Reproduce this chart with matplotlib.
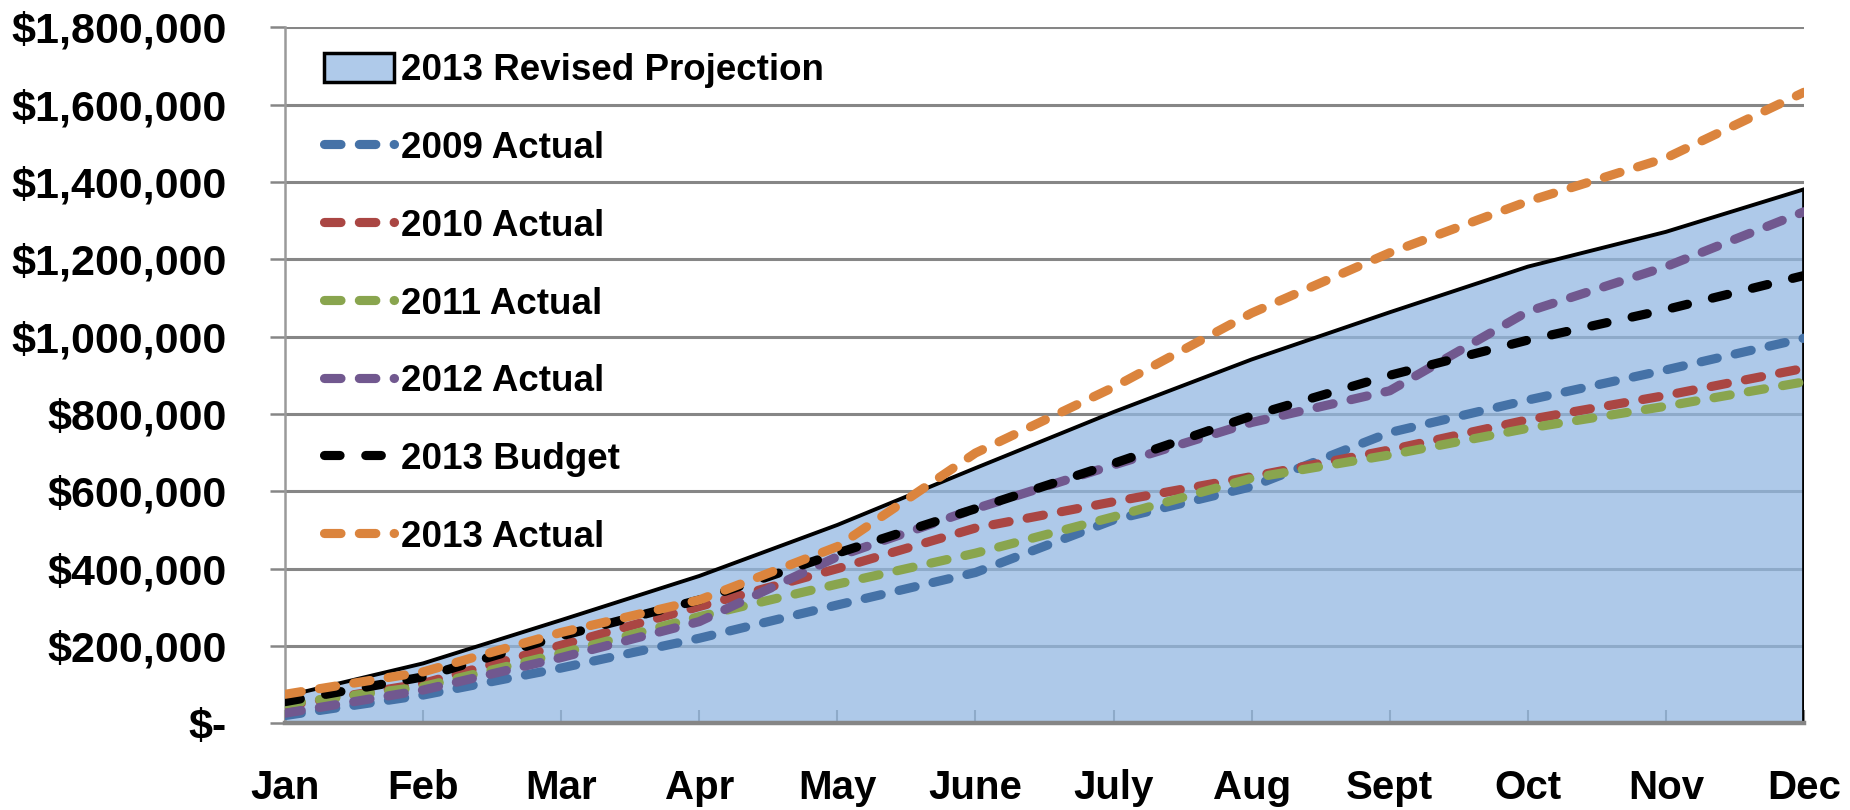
import matplotlib
matplotlib.use("Agg")
import matplotlib.pyplot as plt
from matplotlib.ticker import FuncFormatter, MultipleLocator
from matplotlib.patches import Patch
from matplotlib.lines import Line2D

plt.rcParams['font.family'] = ['Liberation Sans', 'DejaVu Sans']
plt.rcParams['font.weight'] = 'bold'

months = ["Jan", "Feb", "Mar", "Apr", "May", "June", "July", "Aug", "Sept", "Oct", "Nov", "Dec"]

revised_2013 = [70000, 155000, 267000, 381000, 513000, 660000, 805000, 941000, 1063000, 1181000, 1271000, 1381000]
actual_2009 = [20000, 73000, 143000, 220000, 306000, 390000, 526000, 612000, 752000, 836000, 914000, 996000]
actual_2010 = [45000, 103000, 202000, 302000, 400000, 505000, 573000, 638000, 707000, 785000, 848000, 918000]
actual_2011 = [50000, 95000, 181000, 276000, 360000, 440000, 534000, 634000, 694000, 763000, 820000, 883000]
actual_2012 = [26000, 86000, 170000, 263000, 431000, 555000, 668000, 778000, 860000, 1065000, 1181000, 1323000]
budget_2013 = [56000, 120000, 226000, 319000, 440000, 555000, 672000, 795000, 900000, 991000, 1070000, 1158000]
actual_2013 = [75000, 133000, 235000, 319000, 457000, 699000, 869000, 1061000, 1217000, 1350000, 1462000, 1632000]

series = [
    ("2009 Actual", actual_2009, "#4572A7"),
    ("2010 Actual", actual_2010, "#AA4643"),
    ("2011 Actual", actual_2011, "#89A54E"),
    ("2012 Actual", actual_2012, "#71588F"),
]

fig = plt.figure(figsize=(18.5, 8.1), dpi=100)
ax = fig.add_axes([285 / 1850, 1 - 723.3 / 810, (1804 - 285) / 1850, (723.3 - 27.3) / 810])

x = list(range(len(months)))
grid_color = "#868686"

ax.set_xlim(0, len(months) - 1)
ax.set_ylim(0, 1800000)
ax.yaxis.set_major_locator(MultipleLocator(200000))
ax.yaxis.grid(True, color=grid_color, linewidth=2.2, zorder=0)
ax.set_axisbelow(True)

# projection area with its outline
ax.fill_between(x, 0, revised_2013, facecolor="#92B7E2", alpha=0.74, linewidth=0, zorder=1)
ax.plot(x, revised_2013, color="black", linewidth=2.8, zorder=2, solid_joinstyle="round")
ax.vlines(x[-1], 0, revised_2013[-1], color="black", linewidth=3.4, zorder=2)

lw = 6.6
dash_round = dict(linewidth=lw, dash_capstyle="round", linestyle=(0, (1.8, 2.0)))
budget_style = dict(linewidth=lw, dash_capstyle="round", linestyle=(0, (1.7, 2.8)))
for label, vals, col in series:
    ax.plot(x, vals, color=col, zorder=3, **dash_round)
ax.plot(x, budget_2013, color="black", zorder=3, **budget_style)
ax.plot(x, actual_2013, color="#DB843D", zorder=3, **dash_round)

# axes styling
for side in ("top", "right"):
    ax.spines[side].set_visible(False)
ax.spines["left"].set_color("#9A9A9A")
ax.spines["left"].set_linewidth(1.8)
ax.spines["bottom"].set_color(grid_color)
ax.spines["bottom"].set_linewidth(3.2)
ax.spines["bottom"].set_zorder(4)

def money(v, pos):
    if abs(v) < 1:
        return "$-"
    return f"${v:,.0f}"

ax.yaxis.set_major_formatter(FuncFormatter(money))
ax.set_xticks(x)
ax.set_xticklabels(months)
ax.tick_params(axis="y", direction="out", length=11, width=1.8, color=grid_color,
               pad=31, labelsize=31)
ax.tick_params(axis="x", direction="in", length=9.5, width=1.5, color=grid_color,
               pad=33, labelsize=29)
for t in ax.get_xticklabels() + ax.get_yticklabels():
    t.set_fontweight("bold")

handles = [Patch(facecolor="#AFCAEA", edgecolor="black", linewidth=2.5)]
labels = ["2013 Revised Projection"]
for label, vals, col in series:
    handles.append(Line2D([], [], color=col, **dash_round))
    labels.append(label)
handles.append(Line2D([], [], color="black", **budget_style))
labels.append("2013 Budget")
handles.append(Line2D([], [], color="#DB843D", **dash_round))
labels.append("2013 Actual")

leg = ax.legend(handles, labels, loc="upper left",
                bbox_to_anchor=(324 / 1850, 1 - 53 / 810), bbox_transform=fig.transFigure,
                frameon=False, handlelength=1.9, handleheight=0.85,
                handletextpad=0.2, labelspacing=1.15, borderpad=0, borderaxespad=0,
                prop={"weight": "bold", "size": 26.5})

fig.savefig("out.png", dpi=100)
